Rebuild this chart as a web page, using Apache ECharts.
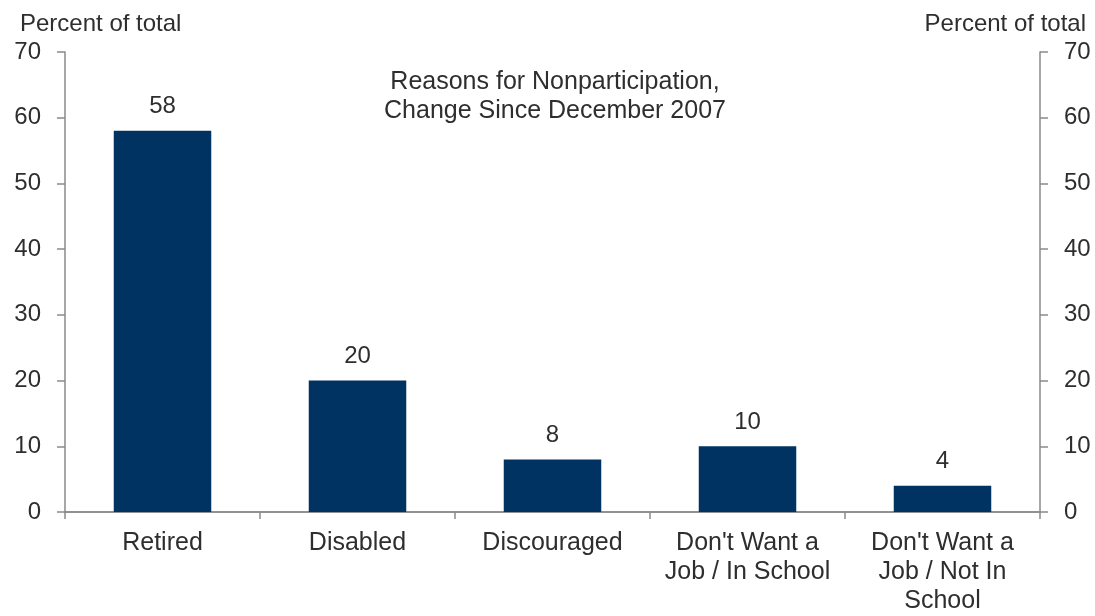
<!DOCTYPE html>
<html>
<head>
<meta charset="utf-8">
<script src="https://cdn.jsdelivr.net/npm/echarts@6/dist/echarts.min.js"></script>
<style>
  html, body { margin: 0; padding: 0; background: #ffffff; }
  #chart { width: 1095px; height: 616px; }
</style>
</head>
<body>
<div id="chart"></div>
<script>
// Reasons for labour-force nonparticipation, share of change since Dec 2007
const categories = [
  'Retired',
  'Disabled',
  'Discouraged',
  "Don't Want a\nJob / In School",
  "Don't Want a\nJob / Not In\nSchool"
];
const shares = [58, 20, 8, 10, 4];
const yTicks = { min: 0, max: 70, interval: 10 };
const axisName = 'Percent of total';
const chartTitle = 'Reasons for Nonparticipation,\nChange Since December 2007';

const FONT = '"Liberation Sans", Arial, sans-serif';
const TEXT = '#2e2e2e';
const AXIS = '#8a8a8a';
const BAR = '#003361';

const valueAxis = (pos) => ({
  type: 'value',
  position: pos,
  min: yTicks.min,
  max: yTicks.max,
  interval: yTicks.interval,
  axisLine: { show: true, lineStyle: { color: AXIS, width: 1.5 } },
  axisTick: { show: true, length: 8, lineStyle: { color: AXIS, width: 1.5 } },
  axisLabel: { margin: 24, color: TEXT, fontFamily: FONT, fontSize: 24 },
  splitLine: { show: false }
});

const chart = echarts.init(document.getElementById('chart'), null, { renderer: 'canvas' });
chart.setOption({
  backgroundColor: '#ffffff',
  animation: false,
  title: [
    { text: axisName, left: 15, top: 7,
      textStyle: { color: TEXT, fontFamily: FONT, fontSize: 24, fontWeight: 'normal' } },
    { text: axisName, right: 4, top: 7,
      textStyle: { color: TEXT, fontFamily: FONT, fontSize: 24, fontWeight: 'normal' } },
    { text: chartTitle, left: 550, top: 63, textAlign: 'center',
      textStyle: { color: TEXT, fontFamily: FONT, fontSize: 25, fontWeight: 'normal', lineHeight: 29, align: 'center' } }
  ],
  grid: { left: 65, right: 55, top: 52, bottom: 104, containLabel: false },
  xAxis: [
    {
      type: 'category',
      data: categories,
      position: 'bottom',
      axisLine: { show: true, onZero: false, lineStyle: { color: AXIS, width: 1.5 } },
      axisTick: { show: true, length: 7, lineStyle: { color: AXIS, width: 1.5 } },
      axisLabel: { margin: 17, color: TEXT, fontFamily: FONT, fontSize: 25, lineHeight: 29, interval: 0 }
    },
    {
      type: 'category',
      data: categories,
      position: 'top',
      axisLine: { show: true, lineStyle: { color: AXIS, width: 1.5 } },
      axisTick: { show: false },
      axisLabel: { show: false }
    }
  ],
  yAxis: [valueAxis('left'), valueAxis('right')],
  series: [{
    type: 'bar',
    data: shares,
    barWidth: '50%',
    itemStyle: { color: BAR },
    label: {
      show: true, position: 'top', distance: 12,
      color: TEXT, fontFamily: FONT, fontSize: 24
    }
  }]
});
</script>
</body>
</html>
